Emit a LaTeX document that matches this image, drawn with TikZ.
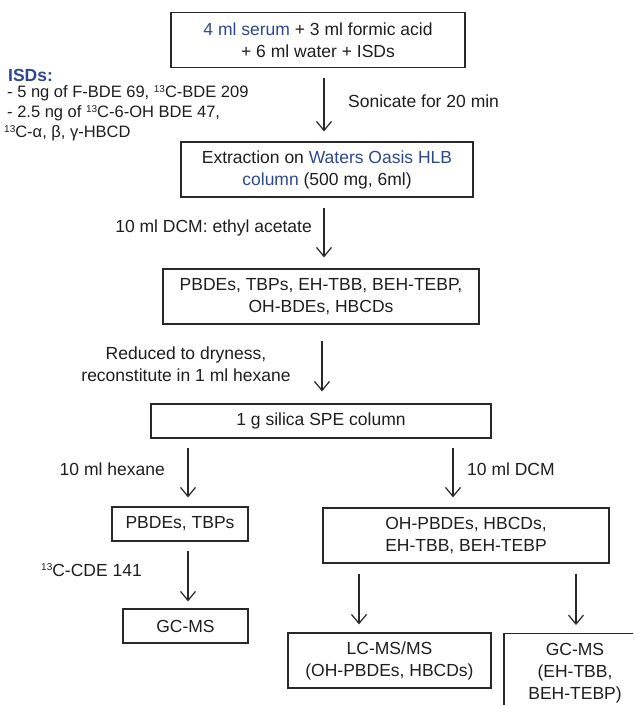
\documentclass[tikz,border=0pt]{standalone}
\usepackage{fontspec}
\setmainfont{Liberation Sans}
\usetikzlibrary{arrows.meta}
\definecolor{isdblue}{RGB}{46,72,140}
\definecolor{txt}{RGB}{30,30,30}
\definecolor{edge}{RGB}{40,40,40}
\newcommand{\isup}[1]{\raisebox{0.6ex}{\fontsize{10}{10}\selectfont #1}}
\begin{document}
\begin{tikzpicture}[x=1pt,y=-1pt,
 box/.style={draw=edge,line width=1.3pt,align=center,inner sep=0pt,text=txt,font=\fontsize{17.5}{22}\selectfont},
 lab/.style={inner sep=0pt,text=txt,font=\fontsize{17.5}{22}\selectfont},
 isd/.style={inner sep=0pt,anchor=west,text=txt,font=\fontsize{16.5}{19}\selectfont},
 arr/.style={draw=edge,line width=1.2pt,-{Straight Barb[length=9pt,width=15pt]}}]
\useasboundingbox (0,0) rectangle (633,705);
\clip (0,0) rectangle (633,705);
% boxes
\node[box,minimum width=294pt,minimum height=55pt] (b1) at (318,40) {\textcolor{isdblue}{4 ml serum} + 3 ml formic acid\\+ 6 ml water + ISDs};
\node[box,minimum width=292pt,minimum height=55pt] (b2) at (327,169.5) {Extraction on \textcolor{isdblue}{Waters Oasis HLB}\\\textcolor{isdblue}{column} (500 mg, 6ml)};
\node[box,minimum width=316pt,minimum height=55pt] (b3) at (321,296.5) {PBDEs, TBPs, EH-TBB, BEH-TEBP,\\OH-BDEs, HBCDs};
\node[box,minimum width=340pt,minimum height=34pt] (b4) at (321,421) {1 g silica SPE column};
\node[box,minimum width=136pt,minimum height=34pt] (b5) at (180,524) {PBDEs, TBPs};
\node[box,minimum width=286pt,minimum height=55pt] (b6) at (466,535.5) {OH-PBDEs, HBCDs,\\EH-TBB, BEH-TEBP};
\node[box,minimum width=125pt,minimum height=34pt] (b7) at (185.5,626) {GC-MS};
\node[box,minimum width=203pt,minimum height=55pt] (b8) at (389.5,660.5) {LC-MS/MS\\(OH-PBDEs, HBCDs)};
\node[box,minimum width=142pt,minimum height=80pt,anchor=north] (b9) at (575,633) {GC-MS\\(EH-TBB,\\BEH-TEBP)};
% arrow x positions
\coordinate (xa) at (324,0);
\coordinate (xb) at (322,0);
\coordinate (xl) at (188,0);
\coordinate (xr) at (453,0);
\coordinate (xc) at (359,0);
\coordinate (xd) at (576,0);
% arrows
\draw[arr,shorten <=10pt,shorten >=10pt] (b1.south -| xa) -- (b2.north -| xa);
\draw[arr,shorten <=10pt,shorten >=11pt] (b2.south -| xa) -- (b3.north -| xa);
\draw[arr,shorten <=16pt,shorten >=12pt] (b3.south -| xb) -- (b4.north -| xb);
\draw[arr,shorten <=9pt,shorten >=9pt] (b4.south -| xl) -- (b5.north -| xl);
\draw[arr,shorten <=9pt,shorten >=10pt] (b4.south -| xr) -- (b6.north -| xr);
\draw[arr,shorten <=9pt,shorten >=7pt] (b5.south -| xl) -- (b7.north -| xl);
\draw[arr,shorten <=10pt,shorten >=8pt] (b6.south -| xc) -- (b8.north -| xc);
\draw[arr,shorten <=10pt,shorten >=8pt] (b6.south -| xd) -- (b9.north -| xd);
% labels
\node[lab,anchor=west] (son) at (348,101) {Sonicate for 20 min};
\node[lab,anchor=east] (dcm1) at (312,228) {10 ml DCM: ethyl acetate};
\node[lab,align=center] (red) at (186,364) {Reduced to dryness,\\reconstitute in 1 ml hexane};
\node[lab,anchor=east] (hex) at (165,469) {10 ml hexane};
\node[lab,anchor=west] (dcm2) at (467,469) {10 ml DCM};
\node[lab,anchor=east] (cde) at (142,570) {\isup{13}C-CDE 141};
% ISDs
\node[isd,text=isdblue,font=\fontsize{17.5}{19}\selectfont\bfseries] (isdh) at (8,75) {ISDs:};
\node[isd] (i1) at (7,93) {- 5 ng of F-BDE 69, \isup{13}C-BDE 209};
\node[isd] (i2) at (7,113) {- 2.5 ng of \isup{13}C-6-OH BDE 47,};
\node[isd] (i3) at (4,133) {\isup{13}C-α, β, γ-HBCD};
\end{tikzpicture}
\end{document}
